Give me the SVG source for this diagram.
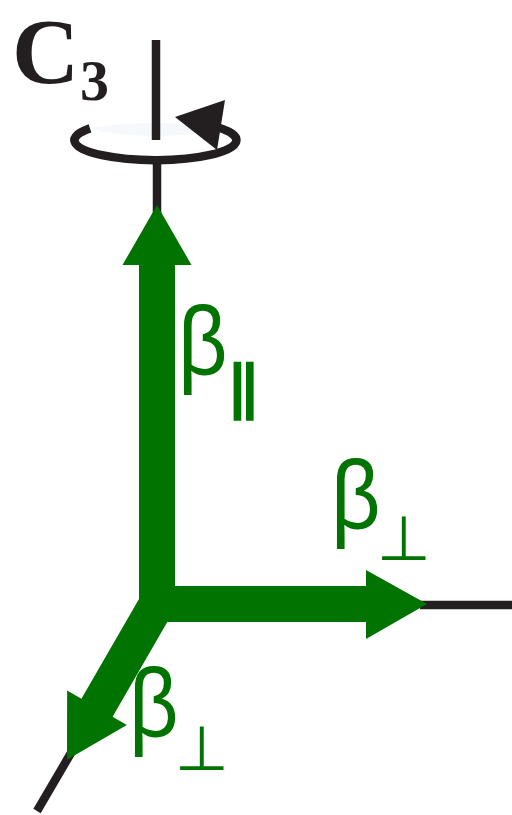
<svg xmlns="http://www.w3.org/2000/svg" width="512" height="815" viewBox="0 0 512 815">
<style>
.ax{stroke:#231f20;stroke-width:8.5;fill:none}
.g{fill:#007300}
.lbl{fill:#007300;font-family:"Liberation Sans",Arial,sans-serif;font-size:99px}
.sub{fill:#007300;font-family:"DejaVu Sans",sans-serif}
</style>
<rect width="512" height="815" fill="#ffffff"/>
<g id="c3-axis">
<path d="M 90 128 Q 154 118 220 128 A 81 20 0 0 1 90 128 Z" fill="#f6f9fc"/>
<line class="ax" x1="156" y1="40" x2="156" y2="140"/>
<line class="ax" x1="157" y1="158" x2="157" y2="215"/>
<path class="ax" stroke-width="10.5" d="M 90 128.4 A 81 20 0 1 0 219 127.8"/>
<polygon fill="#231f20" points="175,117 225,100 217,150"/>
<text x="12" y="83" font-family="Liberation Serif,Times New Roman,serif" font-weight="bold" font-size="93" fill="#231f20">C</text>
<text x="80" y="100" font-family="Liberation Serif,Times New Roman,serif" font-weight="bold" font-size="58" fill="#231f20">3</text>
</g>
<g id="connectors">
<line class="ax" x1="420" y1="605" x2="512" y2="605"/>
<line class="ax" x1="71" y1="753" x2="37" y2="811"/>
</g>
<g id="beta-parallel">
<polygon class="g" points="157,205 191.5,265 175,265 175,605 139,605 139,265 122.5,265"/>
<text class="lbl" transform="translate(178,375) scale(0.87,1)">β</text>
<text class="sub" transform="translate(226,408) scale(1.1,1)" font-size="60" font-weight="bold">∥</text>
</g>
<g id="beta-perp-right">
<polygon class="g" points="140,586 366,586 366,570 427,604 366,639 366,622 140,622"/>
<text class="lbl" transform="translate(331,529) scale(0.87,1)">β</text>
<text class="sub" x="377" y="560" font-size="62">⊥</text>
</g>
<g id="beta-perp-bottom">
<polygon class="g" points="174.09,610.34 112.59,716.86 126.88,725.11 67,759.8 67.12,690.61 81.41,698.86 142.91,592.34"/>
<text class="lbl" transform="translate(129,737) scale(0.87,1)">β</text>
<text class="sub" x="175" y="770" font-size="62">⊥</text>
</g>
</svg>
